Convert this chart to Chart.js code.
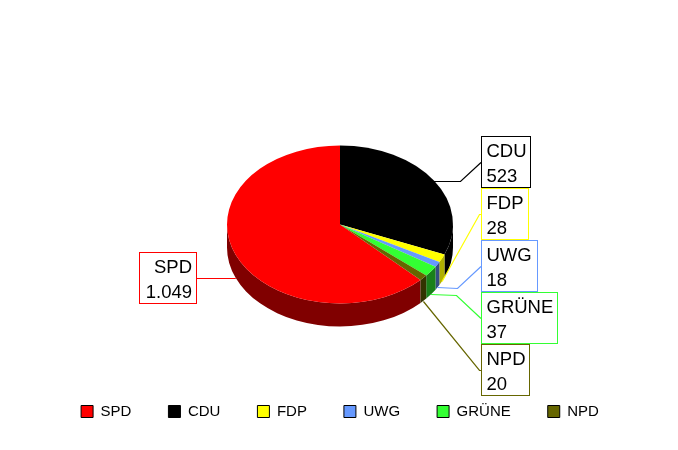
<!DOCTYPE html>
<html><head><meta charset="utf-8">
<style>html,body{margin:0;padding:0;background:#fff}canvas{display:block}</style>
<script src="https://cdn.jsdelivr.net/npm/chart.js@4"></script></head>
<body><div style="width:678px;height:450px"><canvas id="c"></canvas></div>
<script>
const categories = ['SPD','CDU','FDP','UWG','GRÜNE','NPD'];
const seatValues = [1049,523,28,18,37,20];
const valueLabels = ['1.049','523','28','18','37','20'];
const topColors = ['#ff0000','#000000','#ffff00','#6699ff','#33ff33','#666600'];
const wallColors = ['#800000','#000000','#b0b000','#334d80','#1a801a','#333300'];

const SQUASH = 79/113, DEPTH = 23, FONT = '18.5px "Liberation Sans", Arial, sans-serif';
// callout layout: box left/top/width, elbow point
const callouts = [
 {box:[139,252,57], elbow:null},
 {box:[481,136,49], elbow:[460,181]},
 {box:[481,188,47], elbow:[479,214]},
 {box:[481,240,56], elbow:[457,288]},
 {box:[481,292,76], elbow:[456,295]},
 {box:[481,344,48], elbow:[479,370]}
];
const total = seatValues.reduce((a,b)=>a+b,0);

const pie3d = {
 id:'pie3d',
 beforeDatasetsDraw(chart){
  const ctx = chart.ctx, arcs = chart.getDatasetMeta(0).data;
  const a0 = arcs[0], cx = a0.x, cy = a0.y, r = a0.outerRadius, ry = r*SQUASH;
  // side wall: front half of the rim, extruded downwards
  arcs.forEach((a,i)=>paintWall(ctx,cx,cy,r,ry,norm(a.startAngle),norm(a.endAngle),wallColors[i]));
  ctx.save();
  ctx.translate(cx,cy); ctx.scale(1,SQUASH); ctx.translate(-cx,-cy);
 },
 afterDatasetsDraw(chart){
  const ctx = chart.ctx; ctx.restore();
  chart.getDatasetMeta(0).data.forEach((a,i)=>drawCallout(ctx,a,i));
 }
};
function norm(t){const p=2*Math.PI;return ((t%p)+p)%p;}
function paintWall(ctx,cx,cy,r,ry,st,en,color){
  const ranges = en<st ? [[st,2*Math.PI],[0,en]] : [[st,en]];
  ranges.forEach(([s,e])=>{
    s=Math.max(s,0); e=Math.min(e,Math.PI);
    if(e<=s) return;
    ctx.beginPath();
    ctx.ellipse(cx,cy,r,ry,0,s,e);
    ctx.ellipse(cx,cy+DEPTH,r,ry,0,e,s,true);
    ctx.closePath();
    ctx.fillStyle=color; ctx.fill();
  });
}
function drawCallout(ctx,a,i){
  const c = callouts[i], r=a.outerRadius, ry=r*SQUASH;
  const mid=(a.startAngle+a.endAngle)/2;
  const sx=a.x+r*Math.cos(mid), sy0=a.y+ry*Math.sin(mid);
  const sy=Math.round(sy0+(i===1?0:DEPTH))+.5;
  const [bx,by,bw]=c.box, bh=51, left=bx>a.x;
  const ey=by+26;
  ctx.save();
  ctx.strokeStyle=topColors[i]; ctx.lineWidth=1.2;
  ctx.beginPath(); ctx.moveTo(sx,sy);
  if(c.elbow) ctx.lineTo(c.elbow[0]+.5,c.elbow[1]+.5);
  ctx.lineTo(left?bx:bx+bw,c.elbow?ey+.5:sy);
  ctx.stroke();
  ctx.lineWidth=1;
  ctx.fillStyle='#fff';
  ctx.fillRect(bx,by,bw,bh);
  ctx.strokeRect(bx+.5,by+.5,bw,bh);
  ctx.fillStyle='#000'; ctx.font=FONT; ctx.textBaseline='alphabetic';
  if(left){ctx.textAlign='left'; ctx.fillText(categories[i],bx+5.5,by+20.5); ctx.fillText(valueLabels[i],bx+5.5,by+45.5);}
  else{ctx.textAlign='right'; ctx.fillText(categories[i],bx+bw-4,by+20.5); ctx.fillText(valueLabels[i],bx+bw-4,by+45.5);}
  ctx.restore();
}

new Chart(document.getElementById('c'),{
 type:'pie',
 data:{labels:categories,datasets:[{data:seatValues,backgroundColor:topColors,borderWidth:0,radius:113,
   rotation:360*(1-seatValues[0]/total)}]},
 plugins:[pie3d],
 options:{
  responsive:true,maintainAspectRatio:false,animation:false,
  layout:{padding:{left:2,top:82,right:0,bottom:21}},
  plugins:{
   tooltip:{enabled:false},
   legend:{position:'bottom',labels:{
     boxWidth:12,boxHeight:12,padding:37,color:'#000',
     font:{family:'"Liberation Sans", Arial, sans-serif',size:15},
     generateLabels(chart){
       return categories.map((t,i)=>({text:t,fillStyle:topColors[i],strokeStyle:'#000',lineWidth:1,index:i,hidden:false}));
     }}}
  }
 }
});
</script></body></html>
